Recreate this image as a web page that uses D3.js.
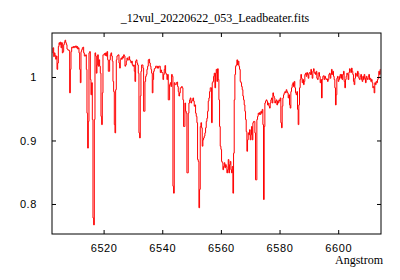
<!DOCTYPE html>
<html>
<head>
<meta charset="utf-8">
<script src="https://cdn.jsdelivr.net/npm/d3@7"></script>
<style>
  body { margin: 0; background: #fff; }
  svg text { fill: #000; }
</style>
</head>
<body>
<svg id="chart" width="400" height="280"></svg>
<script>
// spectrum header (linear dispersion, like the fits file)
var titleText = "_12vul_20220622_053_Leadbeater.fits";
var xLabel = "Angstrom";
var crval1 = 6502.63;
var cdelt1 = 0.2272;

// flux in pieces from blue to red
var fluxBlue = [1.038,1.046,1.032,1.038,1.034,1.028,1.033,1.012,1.022,1.048,1.054,1.051,1.055,1.046,1.054,1.038,
  1.040,1.051,1.055,1.058,1.054,1.051,1.044,1.043,1.042,1.042,0.975,1.012,1.040,1.047,1.046,1.048,1.046,1.048,
  1.047,1.049,1.046,1.048,1.044,1.046,1.038,1.012,0.991,1.040,1.043,1.046,1.047,1.038,1.033,1.033,1.035,1.012,
  0.943,0.888,0.930,1.038,1.040,0.996,0.972,0.991,0.933,0.778,0.767,0.933,1.038,1.033,1.006,1.019,1.035,1.017,
  1.027,1.017,1.006,0.938,0.925,0.975,1.035];
var flux6520 = [1.035,1.037,1.034,1.038,1.033,1.040,1.027,1.009,1.009,1.027,1.035,1.038,1.033,1.025,0.993,0.977,
  0.925,0.912,0.980,1.027,1.033,1.034,1.035,1.022,1.014,1.027,1.030,1.028,1.032,1.030,1.035,1.033,1.017,1.019,
  1.025,1.030,1.027,1.027,1.032,1.027,1.025,1.022,1.025,1.019,1.017,1.019,1.009,0.993,1.025,1.027,1.022,1.019,
  1.006,0.912,0.904,0.970,1.009,1.019,1.019,1.014,0.946,0.946,0.993,1.001,1.004,1.012,1.017,1.027,1.028,1.022,
  1.017,1.012,1.006,0.975,0.996,1.009,1.013,1.014,1.017,1.017,1.014,1.017,1.014,1.017];
var flux6540 = [1.017,1.007,1.011,1.007,1.007,0.996,1.004,1.012,1.018,1.006,1.004,0.996,1.004,0.964,0.964,0.988,
  0.991,0.985,1.004,1.001,0.828,0.817,0.991,0.988,0.988,0.991,0.992,0.985,0.977,0.970,0.975,0.983,0.983,0.985,
  0.983,0.964,0.922,0.922,0.959,0.946,0.943,0.849,0.849,0.943,0.959,0.964,0.967,0.959,0.962,0.964,0.967,0.962,
  0.954,0.956,0.943,0.938,0.928,0.870,0.867,0.794,0.823,0.922,0.928,0.920,0.891,0.901,0.904,0.907,0.912,0.920,
  0.930,0.935,0.946,0.962,0.967,0.977,0.983,0.983,0.928,0.991,0.993];
var fluxHalpha = [1.001,1.006,0.983,1.006,1.012,0.993,1.013,0.996,0.964,0.922,0.891,0.886,0.867,0.865,0.854,0.859,
  0.865,0.857,0.862,0.859,0.849,0.854,0.870,0.849,0.862,0.867,0.854,0.849,0.859,0.817,0.880,0.964,1.004,1.017,
  1.019,1.027,1.019,1.025,1.017,1.012,0.993,0.991,0.985,0.980,0.970,0.964,0.956,0.946,0.933,0.914,0.883,0.901,
  0.912,0.909,0.917,0.901,0.909,0.922,0.901,0.928,0.930,0.930,0.912,0.838,0.838,0.933,0.938,0.943,0.941,0.944,
  0.941,0.946,0.943,0.949,0.925,0.807,0.922,0.959,0.962,0.964,0.962];
var flux6580 = [0.956,0.959,0.954,0.951,0.959,0.964,0.967,0.959,0.975,0.970,0.967,0.959,0.962,0.964,0.956,0.962,
  0.959,0.964,0.962,0.967,0.928,0.920,0.954,0.967,0.972,0.975,0.977,0.975,0.980,0.977,0.975,0.967,0.972,0.956,
  0.951,0.977,0.983,0.988,0.991,0.985,0.993,0.983,0.975,0.972,0.977,0.949,0.925,0.956,0.983,0.996,1.004,0.998,
  0.991,0.996,0.988,0.993,1.004,1.006,1.001,1.007,1.004,0.998,1.006,1.007,1.004,1.012,1.004,0.998,1.009,1.013,
  1.006,1.007,1.004,1.009,0.998,0.996,1.006,1.007,1.001,0.991,0.996];
var fluxRed = [0.967,0.996,1.001,1.002,0.996,1.001,0.998,0.996,0.997,0.993,0.996,1.004,1.006,0.998,1.004,1.012,
  1.004,1.009,1.001,0.996,0.983,0.956,0.972,0.998,1.001,0.993,0.996,1.001,1.004,0.998,1.004,0.996,1.004,1.009,
  0.993,0.983,0.996,1.001,1.006,1.004,0.996,1.007,1.013,1.011,1.007,1.014,1.009,1.004,0.993,0.988,0.998,1.006,
  1.004,1.001,1.009,1.006,0.998,0.996,1.001,1.004,0.996,0.993,1.001,0.996,1.004,0.998,0.991,1.001,0.998,0.996,
  1.001,1.004,0.996,0.998,0.993,0.996,0.991,0.983,0.985,0.975,0.991,0.988,0.993,0.991,0.996,0.998,1.009,1.004,1.012];

// axis ticks
var xTicks = [6520, 6540, 6560, 6580, 6600];
var yTicks = [0.8, 0.9, 1];

var flux = fluxBlue.concat(flux6520, flux6540, fluxHalpha, flux6580, fluxRed);
var spectrum = flux.map((f, i) => ({wave: crval1 + i * cdelt1, flux: f}));

// plot box
var margin = {left: 52, right: 19, top: 33, bottom: 46};
var width = 400 - margin.left - margin.right;
var height = 280 - margin.top - margin.bottom;

var svg = d3.select("#chart");

var xScale = d3.scaleLinear().domain([6502.4, 6614.6]).range([0, width]);
var yScale = d3.scaleLinear().domain([0.7527, 1.0693]).range([height, 0]);

var plot = svg.append("g")
    .attr("transform", "translate(" + margin.left + "," + margin.top + ")");

// clip so the line stays inside the frame
plot.append("clipPath").attr("id", "box")
    .append("rect").attr("width", width).attr("height", height);

var line = d3.line()
    .curve(d3.curveStep)
    .x(d => xScale(d.wave))
    .y(d => yScale(d.flux));

plot.append("path")
    .datum(spectrum)
    .attr("clip-path", "url(#box)")
    .attr("fill", "none")
    .attr("stroke", "#ff0000")
    .attr("stroke-width", 1)
    .attr("d", line);

// axes, ticks point inward on all four sides
var tickFont = "'Liberation Sans', Arial, sans-serif";
var xFmt = d3.format("d");
var yFmt = d => String(d);

var axBottom = plot.append("g").attr("transform", "translate(0," + height + ")")
    .call(d3.axisBottom(xScale).tickValues(xTicks).tickFormat(xFmt).tickSizeInner(-4).tickSizeOuter(0).tickPadding(10));
var axTop = plot.append("g")
    .call(d3.axisTop(xScale).tickValues(xTicks).tickSizeInner(-4).tickSizeOuter(0).tickFormat(""));
var axLeft = plot.append("g")
    .call(d3.axisLeft(yScale).tickValues(yTicks).tickFormat(yFmt).tickSizeInner(-4).tickSizeOuter(0).tickPadding(15));
var axRight = plot.append("g").attr("transform", "translate(" + width + ",0)")
    .call(d3.axisRight(yScale).tickValues(yTicks).tickSizeInner(-4).tickSizeOuter(0).tickFormat(""));

[axBottom, axTop, axLeft, axRight].forEach(g => {
    g.select(".domain").remove();
    g.selectAll(".tick line").attr("stroke", "#000");
    g.selectAll("text")
        .attr("font-family", tickFont)
        .attr("font-size", 11)
        .attr("letter-spacing", 0.6)
        .attr("fill", "#000");
});

plot.append("rect")
    .attr("width", width).attr("height", height)
    .attr("fill", "none").attr("stroke", "#000").attr("stroke-width", 1);

// title and axis name in a serif face
svg.append("text")
    .attr("x", 215).attr("y", 22)
    .attr("text-anchor", "middle")
    .attr("font-family", "'Liberation Serif', 'Times New Roman', serif")
    .attr("font-size", 12)
    .text(titleText);

svg.append("text")
    .attr("x", 383).attr("y", 264)
    .attr("text-anchor", "end")
    .attr("font-family", "'Liberation Serif', 'Times New Roman', serif")
    .attr("font-size", 12)
    .text(xLabel);
</script>
</body>
</html>
